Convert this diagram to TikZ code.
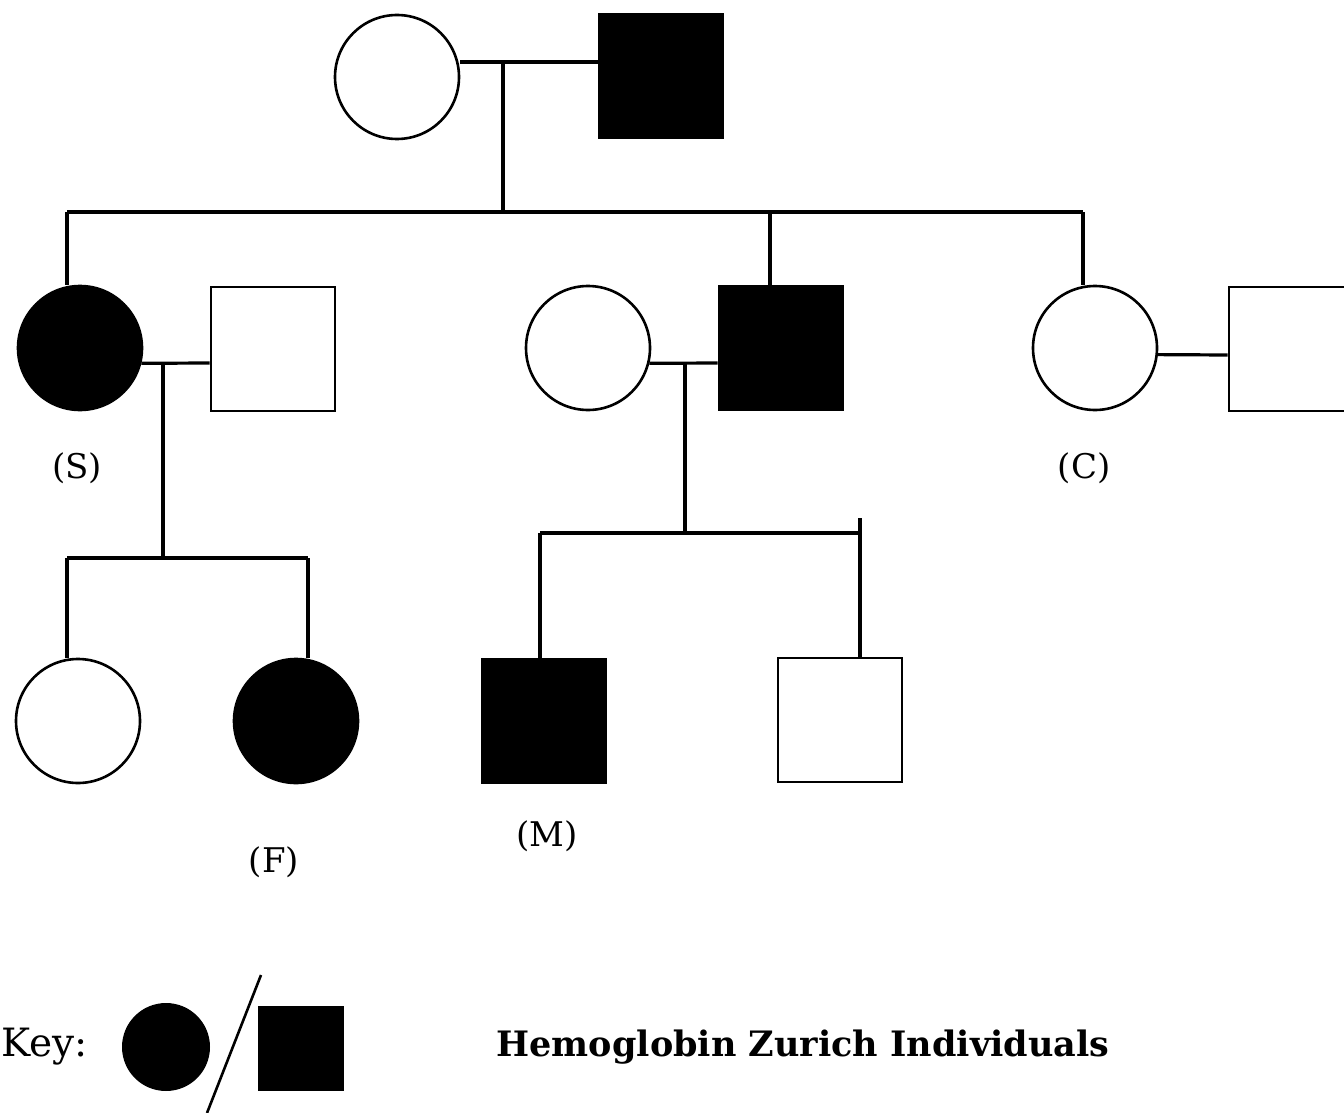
\documentclass[tikz,border=0pt]{standalone}
\usepackage{fontspec}
\setmainfont{DejaVu Serif}
\begin{document}
\begin{tikzpicture}[x=1pt,y=-1pt,
  line width=3.2pt,
  fem/.style={circle,draw,minimum size=124pt,inner sep=0pt,line width=2.6pt},
  mal/.style={rectangle,draw,minimum size=124pt,inner sep=0pt,line width=2.6pt},
  aff/.style={fill=black},
  lbl/.style={font=\fontsize{34}{38}\selectfont}]
\useasboundingbox (0,0) rectangle (1344,1113);
% generation I
\node[fem] (g1f) at (397,77) {};
\node[mal,aff] (g1m) at (661,76) {};
\coordinate (j1) at (503,62);
\draw (g1f.east |- j1) -- (g1m.west |- j1);
\coordinate (s1) at (503,212);
\draw (j1) -- (s1);
% generation II
\node[fem,aff] (S) at (80,348) {};
\node[mal] (Sh) at (273,349) {};
\node[fem] (Mw) at (588,348) {};
\node[mal,aff] (Mh) at (781,348) {};
\node[fem] (C) at (1095,348) {};
\node[mal] (Ch) at (1291,349) {};
\coordinate (s1l) at (67,212);
\coordinate (s1m) at (770,212);
\coordinate (s1r) at (1083,212);
\draw (s1l) -- (s1r);
\draw (s1l) -- (S.north -| s1l);
\draw (s1m) -- (Mh.north -| s1m);
\draw (s1r) -- (C.north -| s1r);
% couples
\coordinate (j2) at (163,363);
\draw (S.-14) -- (Sh.west |- j2);
\coordinate (j3) at (685,363);
\draw (Mw.-14) -- (Mh.west |- j3);
\coordinate (cc) at (1160,355);
\draw (C.-6) -- (Ch.west |- cc);
\node[lbl] (lS) at (77,468) {(S)};
\node[lbl] (lC) at (1084,468) {(C)};
% generation III
\node[fem] (d1) at (78,721) {};
\node[fem,aff] (F) at (296,721) {};
\node[mal,aff] (M) at (544,721) {};
\node[mal] (b2) at (840,720) {};
\coordinate (s2) at (163,558);
\draw (j2) -- (s2);
\coordinate (s2l) at (67,558);
\coordinate (s2r) at (308,558);
\draw (s2l) -- (s2r);
\draw (s2l) -- (d1.north -| s2l);
\draw (s2r) -- (F.north -| s2r);
\coordinate (s3) at (685,533);
\draw (j3) -- (s3);
\coordinate (s3l) at (540,533);
\coordinate (s3r) at (860,533);
\coordinate (s3t) at (860,518);
\draw (s3l) -- (s3r);
\draw (s3l) -- (M.north -| s3l);
\draw (s3t) -- (b2.north -| s3t);
\node[lbl] (lF) at (274,862) {(F)};
\node[lbl] (lM) at (547,836) {(M)};
% key
\node[font=\fontsize{39}{42}\selectfont,anchor=west,inner sep=0pt] (key) at (0,1047) {Key:};
\node[circle,fill=black,minimum width=84pt,minimum height=88pt,inner sep=0pt] (kc) at (166,1047) {};
\node[rectangle,fill=black,minimum width=86pt,minimum height=85pt,inner sep=0pt] (ks) at (301,1048) {};
\coordinate (sl1) at (261,975);
\coordinate (sl2) at (207,1113);
\draw[line width=2.6pt] (sl1) -- (sl2);
\node[font=\fontsize{35}{40}\selectfont\bfseries,anchor=west,inner sep=0pt] (title) at (495,1047) {Hemoglobin Zurich Individuals};
\end{tikzpicture}
\end{document}
